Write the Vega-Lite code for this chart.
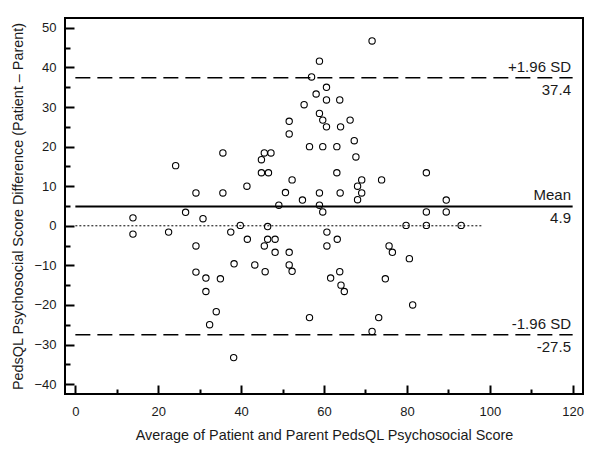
{
  "$schema": "https://vega.github.io/schema/vega-lite/v6.json",
  "width": 518,
  "height": 376,
  "autosize": "none",
  "padding": {"left": 65, "top": 18, "right": 17, "bottom": 55},
  "background": "white",
  "config": {
    "view": {"stroke": "#000", "strokeWidth": 2},
    "font": "Liberation Sans",
    "axis": {
      "domain": false,
      "grid": false,
      "tickColor": "#000",
      "tickWidth": 2,
      "labelColor": "#1a1a1a",
      "titleColor": "#1a1a1a",
      "labelFont": "Liberation Sans",
      "titleFont": "Liberation Sans",
      "labelFontSize": 13,
      "titleFontSize": 14.4,
      "titleFontWeight": "normal"
    }
  },
  "datasets": {
    "points": [
      {"avg": 13.9, "diff": 2.0}, {"avg": 13.9, "diff": -2.1}, {"avg": 22.5, "diff": -1.6},
      {"avg": 24.2, "diff": 15.2}, {"avg": 26.6, "diff": 3.4}, {"avg": 29.1, "diff": 8.3},
      {"avg": 29.1, "diff": -5.1}, {"avg": 29.1, "diff": -11.7}, {"avg": 30.8, "diff": 1.8},
      {"avg": 31.5, "diff": -13.2}, {"avg": 31.5, "diff": -16.6}, {"avg": 32.4, "diff": -25.0},
      {"avg": 34.0, "diff": -21.7}, {"avg": 35.0, "diff": -13.4}, {"avg": 35.6, "diff": 8.3},
      {"avg": 35.6, "diff": 18.4}, {"avg": 37.5, "diff": -1.6}, {"avg": 38.2, "diff": -33.3},
      {"avg": 38.3, "diff": -9.6}, {"avg": 39.8, "diff": 0.1}, {"avg": 41.4, "diff": 10.0},
      {"avg": 41.5, "diff": -3.4}, {"avg": 43.3, "diff": -9.9}, {"avg": 44.9, "diff": 16.7},
      {"avg": 44.9, "diff": 13.4}, {"avg": 45.6, "diff": 18.4}, {"avg": 45.6, "diff": -5.1},
      {"avg": 45.8, "diff": -11.6}, {"avg": 46.4, "diff": -0.2}, {"avg": 46.4, "diff": -3.4},
      {"avg": 46.6, "diff": 13.4}, {"avg": 47.2, "diff": 18.4}, {"avg": 48.2, "diff": -3.4},
      {"avg": 48.2, "diff": -6.7}, {"avg": 49.1, "diff": 5.2}, {"avg": 50.7, "diff": 8.4},
      {"avg": 51.6, "diff": 26.4}, {"avg": 51.6, "diff": 23.2}, {"avg": 51.6, "diff": -6.7},
      {"avg": 51.6, "diff": -9.9}, {"avg": 52.3, "diff": 11.6}, {"avg": 52.3, "diff": -11.5},
      {"avg": 54.8, "diff": 6.5}, {"avg": 55.2, "diff": 30.6}, {"avg": 56.5, "diff": 20.0},
      {"avg": 56.5, "diff": -23.2}, {"avg": 57.0, "diff": 37.6}, {"avg": 58.1, "diff": 33.3},
      {"avg": 58.9, "diff": 41.6}, {"avg": 58.9, "diff": 28.4}, {"avg": 58.9, "diff": 8.3},
      {"avg": 58.9, "diff": 5.2}, {"avg": 59.7, "diff": 26.7}, {"avg": 59.7, "diff": 20.0},
      {"avg": 59.7, "diff": 3.5}, {"avg": 60.6, "diff": 35.0}, {"avg": 60.6, "diff": 31.8},
      {"avg": 60.6, "diff": 25.0}, {"avg": 60.7, "diff": -1.6}, {"avg": 60.7, "diff": -5.1},
      {"avg": 61.6, "diff": -13.2}, {"avg": 63.1, "diff": 20.0}, {"avg": 63.1, "diff": 13.4},
      {"avg": 63.2, "diff": -3.4}, {"avg": 63.8, "diff": 31.8}, {"avg": 63.8, "diff": -11.6},
      {"avg": 63.9, "diff": 8.3}, {"avg": 64.0, "diff": 25.0}, {"avg": 64.1, "diff": -15.0},
      {"avg": 64.9, "diff": -16.6}, {"avg": 66.3, "diff": 26.7}, {"avg": 67.3, "diff": 21.5},
      {"avg": 67.7, "diff": 17.4}, {"avg": 68.1, "diff": 10.0}, {"avg": 68.1, "diff": 6.6},
      {"avg": 69.1, "diff": 11.6}, {"avg": 69.1, "diff": 8.3}, {"avg": 71.6, "diff": 46.7},
      {"avg": 71.6, "diff": -26.7}, {"avg": 73.2, "diff": -23.2}, {"avg": 73.9, "diff": 11.6},
      {"avg": 74.8, "diff": -13.4}, {"avg": 75.7, "diff": -5.1}, {"avg": 76.5, "diff": -6.7},
      {"avg": 79.8, "diff": 0.1}, {"avg": 80.6, "diff": -8.3}, {"avg": 81.4, "diff": -20.0},
      {"avg": 84.7, "diff": 13.4}, {"avg": 84.7, "diff": 3.5}, {"avg": 84.7, "diff": 0.1},
      {"avg": 89.5, "diff": 6.5}, {"avg": 89.5, "diff": 3.5}, {"avg": 93.1, "diff": 0.1}
    ],
    "meanLine": [{"x0": 0, "x1": 120, "y": 4.9}],
    "sdLines": [{"x0": 0, "x1": 120, "y": 37.4}, {"x0": 0, "x1": 120, "y": -27.5}],
    "zeroLine": [{"x0": 0, "x1": 98, "y": 0}],
    "labels": [
      {"x": 119.6, "y": 37.4, "above": "+1.96 SD", "below": "37.4"},
      {"x": 119.6, "y": 4.9, "above": "Mean", "below": "4.9"},
      {"x": 119.6, "y": -27.5, "above": "-1.96 SD", "below": "-27.5"}
    ]
  },
  "layer": [
    {
      "data": {"name": "zeroLine"},
      "mark": {"type": "rule", "color": "#000", "strokeWidth": 1, "strokeDash": [2, 2]},
      "encoding": {
        "x": {"field": "x0", "type": "quantitative", "scale": {"domain": [-2.5, 122.5], "nice": false, "zero": false},
          "axis": {"orient": "bottom", "values": [10, 30, 50, 70, 90, 110], "labels": false, "tickSize": -5, "title": null}},
        "x2": {"field": "x1"},
        "y": {"field": "y", "type": "quantitative", "scale": {"domain": [-42.5, 52.5], "nice": false, "zero": false},
          "axis": {"orient": "left", "values": [-35, -25, -15, -5, 5, 15, 25, 35, 45], "labels": false, "tickSize": -5, "title": null}}
      }
    },
    {
      "data": {"name": "meanLine"},
      "mark": {"type": "rule", "color": "#000", "strokeWidth": 2},
      "encoding": {
        "x": {"field": "x0", "type": "quantitative", "axis": null},
        "x2": {"field": "x1"},
        "y": {"field": "y", "type": "quantitative", "axis": null}
      }
    },
    {
      "data": {"name": "sdLines"},
      "mark": {"type": "rule", "color": "#000", "strokeWidth": 1.5, "strokeDash": [15, 7]},
      "encoding": {
        "x": {"field": "x0", "type": "quantitative", "axis": null},
        "x2": {"field": "x1"},
        "y": {"field": "y", "type": "quantitative", "axis": null}
      }
    },
    {
      "data": {"name": "points"},
      "mark": {"type": "point", "shape": "circle", "filled": false, "stroke": "#000", "strokeWidth": 1.1, "size": 40, "opacity": 1},
      "encoding": {
        "x": {"field": "avg", "type": "quantitative",
          "axis": {"orient": "bottom", "values": [0, 20, 40, 60, 80, 100, 120], "tickSize": -9, "labelPadding": 20,
            "title": "Average of Patient and Parent PedsQL Psychosocial Score", "titlePadding": 10}},
        "y": {"field": "diff", "type": "quantitative",
          "axis": {"orient": "left", "values": [-40, -30, -20, -10, 0, 10, 20, 30, 40, 50], "tickSize": -9, "labelPadding": 18,
            "title": "PedsQL Psychosocial Score Difference (Patient \u2013 Parent)", "titlePadding": 8}}
      }
    },
    {
      "data": {"name": "labels"},
      "mark": {"type": "text", "align": "right", "baseline": "alphabetic", "dy": -6, "fontSize": 15, "color": "#1a1a1a", "font": "Liberation Sans"},
      "encoding": {
        "x": {"field": "x", "type": "quantitative", "axis": null},
        "y": {"field": "y", "type": "quantitative", "axis": null},
        "text": {"field": "above"}
      }
    },
    {
      "data": {"name": "labels"},
      "mark": {"type": "text", "align": "right", "baseline": "alphabetic", "dy": 17, "fontSize": 15, "color": "#1a1a1a", "font": "Liberation Sans"},
      "encoding": {
        "x": {"field": "x", "type": "quantitative", "axis": null},
        "y": {"field": "y", "type": "quantitative", "axis": null},
        "text": {"field": "below"}
      }
    }
  ],
  "resolve": {"axis": {"x": "independent", "y": "independent"}}
}
